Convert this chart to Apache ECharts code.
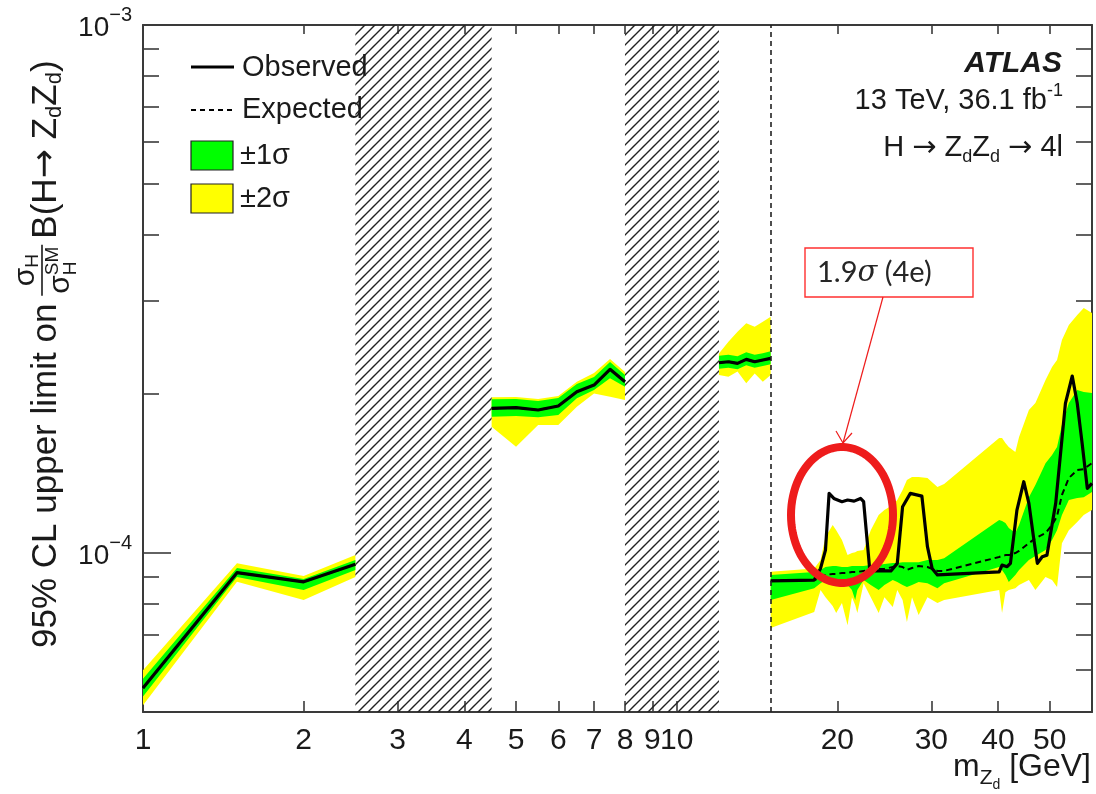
<!DOCTYPE html>
<html>
<head>
<meta charset="utf-8">
<script src="https://cdn.jsdelivr.net/npm/echarts@6/dist/echarts.min.js"></script>
<style>
  html, body { margin: 0; padding: 0; background: #fff; }
  #chart { width: 1096px; height: 794px; }
</style>
</head>
<body>
<div id="chart"></div>
<script>
// all limits are in units of 1e-4 (axis labels show 10^-4, 10^-3)

// excluded mass windows (hatched)
const hatchRanges = [[2.5, 4.5], [8, 12]];
const dashedLineX = 15;

// ticks / labels
const xTickVals = [2, 3, 4, 5, 6, 7, 8, 9, 10, 20, 30, 40, 50];
const xLabelVals = [1, 2, 3, 4, 5, 6, 7, 8, 9, 10, 20, 30, 40, 50];
const yMinorTicks = [0.6, 0.7, 0.8, 0.9, 2, 3, 4, 5, 6, 7, 8, 9];
const yLabelVals = [1, 10];
const yLabelExp = ['\u22124', '\u22123'];

// segment 1 : 1 - 2.5 GeV
const seg1X = [1, 1.5, 2, 2.5];
const seg1Obs = [0.555, 0.918, 0.882, 0.952];
const seg1Exp = [0.555, 0.918, 0.882, 0.952];
const seg1Hi2 = [0.600, 0.956, 0.905, 0.991];
const seg1Hi1 = [0.578, 0.937, 0.893, 0.970];
const seg1Lo1 = [0.535, 0.901, 0.851, 0.929];
const seg1Lo2 = [0.515, 0.882, 0.815, 0.901];

// segment 2 : 4.5 - 8 GeV
const seg2X = [4.5, 5, 5.5, 6, 6.5, 7, 7.5, 8];
const seg2Obs = [1.880, 1.885, 1.866, 1.899, 2.020, 2.080, 2.228, 2.111];
const seg2Exp = [1.880, 1.885, 1.866, 1.899, 2.020, 2.080, 2.228, 2.111];
const seg2Hi2 = [1.972, 1.975, 1.957, 1.983, 2.111, 2.193, 2.330, 2.203];
const seg2Hi1 = [1.955, 1.957, 1.940, 1.966, 2.089, 2.155, 2.300, 2.173];
const seg2Lo1 = [1.812, 1.817, 1.807, 1.825, 1.963, 2.035, 2.142, 2.065];
const seg2Lo2 = [1.734, 1.589, 1.747, 1.747, 1.892, 2.006, 1.977, 1.949];

// segment 3 : 12 - 15 GeV
const seg3X = [12, 12.5, 13, 13.5, 14, 14.5, 15];
const seg3Obs = [2.293, 2.303, 2.287, 2.327, 2.303, 2.320, 2.337];
const seg3Exp = [2.293, 2.303, 2.287, 2.327, 2.303, 2.320, 2.337];
const seg3Hi2 = [2.388, 2.512, 2.624, 2.723, 2.683, 2.742, 2.803];
const seg3Hi1 = [2.364, 2.375, 2.358, 2.399, 2.375, 2.390, 2.410];
const seg3Lo1 = [2.234, 2.244, 2.228, 2.268, 2.244, 2.260, 2.278];
const seg3Lo2 = [2.173, 2.158, 2.206, 2.096, 2.189, 2.111, 2.173];

// segment 4 : 15 - 60 GeV, observed
const obs4X = [15.0, 18.1, 18.6, 19.0, 19.3, 19.7, 20.4, 20.9, 21.5, 22.1, 22.4, 23.0, 23.6,
  25.2, 25.9, 26.5, 27.4, 28.8, 29.5, 30.1, 30.8, 40.2, 40.7, 41.6, 42.2, 43.4, 44.7, 45.7,
  46.7, 47.4, 48.4, 49.4, 51.3, 53.5, 55.1, 56.3, 57.5, 58.8, 60];
const obs4 = [0.886, 0.889, 0.935, 1.013, 1.297, 1.269, 1.251, 1.260, 1.254, 1.269, 1.251, 0.929, 0.925,
  0.925, 0.956, 1.224, 1.297, 1.282, 1.028, 0.935, 0.909, 0.921, 0.949, 0.942, 0.956, 1.206, 1.365, 1.242,
  1.058, 0.956, 0.984, 0.991, 1.242, 1.921, 2.164, 1.921, 1.613, 1.326, 1.355];

// segment 4 : expected and bands
const band4X = [15.0, 18.1, 18.6, 19.0, 19.6, 19.9, 20.4, 20.9, 21.3, 21.6, 21.8, 22.4, 23.1, 23.9,
  24.5, 25.4, 25.9, 26.5, 27.0, 27.6, 28.4, 29.5, 30.8, 31.7, 40.2, 40.7, 41.3, 41.9, 43.1, 43.8,
  45.7, 47.0, 49.1, 50.5, 51.6, 52.7, 54.3, 56.3, 57.9, 60];
const exp4 = [0.886, 0.889, 0.897, 0.909, 0.913, 0.913, 0.917, 0.917, 0.921, 0.921, 0.921, 0.925, 0.929, 0.933,
  0.933, 0.941, 0.945, 0.941, 0.929, 0.937, 0.945, 0.941, 0.925, 0.925, 0.983, 0.987, 0.991, 0.991, 1.000, 1.009,
  1.044, 1.067, 1.091, 1.130, 1.175, 1.288, 1.387, 1.436, 1.442, 1.480];
const hi2_4 = [0.922, 0.935, 0.970, 1.072, 1.130, 1.105, 1.058, 0.991, 1.000, 1.004, 1.009, 1.013, 1.105, 1.180,
  1.206, 1.233, 1.260, 1.316, 1.375, 1.393, 1.393, 1.387, 1.334, 1.351, 1.651, 1.651, 1.616, 1.588, 1.553, 1.658,
  1.866, 1.923, 2.127, 2.251, 2.320, 2.531, 2.703, 2.823, 2.911, 2.848];
const hi1_4 = [0.909, 0.921, 0.929, 0.941, 0.945, 0.945, 0.941, 0.941, 0.945, 0.945, 0.945, 0.945, 0.949, 0.949,
  0.953, 0.957, 0.957, 0.961, 0.961, 0.961, 0.961, 0.970, 0.970, 0.978, 1.155, 1.150, 1.140, 1.115, 1.091, 1.130,
  1.276, 1.345, 1.480, 1.533, 1.588, 1.748, 1.923, 2.036, 2.018, 2.009];
const lo1_4 = [0.815, 0.858, 0.877, 0.889, 0.893, 0.889, 0.877, 0.870, 0.851, 0.815, 0.851, 0.889, 0.870, 0.851,
  0.870, 0.889, 0.881, 0.870, 0.862, 0.870, 0.881, 0.877, 0.858, 0.877, 0.941, 0.929, 0.909, 0.881, 0.909, 0.929,
  0.970, 0.987, 1.013, 1.058, 1.105, 1.180, 1.260, 1.271, 1.276, 1.305];
const lo2_4 = [0.721, 0.773, 0.851, 0.825, 0.794, 0.770, 0.804, 0.730, 0.825, 0.797, 0.770, 0.877, 0.825, 0.770,
  0.825, 0.790, 0.851, 0.815, 0.740, 0.825, 0.763, 0.825, 0.804, 0.815, 0.851, 0.770, 0.843, 0.851, 0.858, 0.870,
  0.889, 0.851, 0.901, 0.889, 0.862, 1.044, 1.105, 1.145, 1.180, 1.206];

const segments = [
  { x: seg1X, obsX: seg1X, obs: seg1Obs, exp: seg1Exp, lo1: seg1Lo1, hi1: seg1Hi1, lo2: seg1Lo2, hi2: seg1Hi2 },
  { x: seg2X, obsX: seg2X, obs: seg2Obs, exp: seg2Exp, lo1: seg2Lo1, hi1: seg2Hi1, lo2: seg2Lo2, hi2: seg2Hi2 },
  { x: seg3X, obsX: seg3X, obs: seg3Obs, exp: seg3Exp, lo1: seg3Lo1, hi1: seg3Hi1, lo2: seg3Lo2, hi2: seg3Hi2 },
  { x: band4X, obsX: obs4X, obs: obs4, exp: exp4, lo1: lo1_4, hi1: hi1_4, lo2: lo2_4, hi2: hi2_4 }
];

const Y_MIN = 0.5, Y_MAX = 10, X_MIN = 1, X_MAX = 60;
const FONT = '"Liberation Sans", Arial, Helvetica, sans-serif';
const ARROW_FONT = '"DejaVu Sans", sans-serif';
const INK = '#1a1a1a';
const FRAME = '#3a3a3a';
const GREEN = '#00ff00', YELLOW = '#ffff00', RED = '#ee1c1c';

// ---- helpers ----
const zip = (xs, ys) => xs.map((x, i) => [x, ys[i]]);
const mctx = document.createElement('canvas').getContext('2d');
function measure(t, size, style, family) {
  mctx.font = (style || '') + ' ' + size + 'px ' + (family || FONT);
  return mctx.measureText(t).width;
}
function txt(t, x, y, size, opt) {
  opt = opt || {};
  const al = opt.align || 'left';
  return {
    type: 'text', x: x, y: y, silent: true, z: 100,
    style: {
      text: t, font: (opt.style || '') + ' ' + size + 'px ' + (opt.family || FONT),
      fill: opt.color || INK, align: al, verticalAlign: 'middle',
      textAlign: al, textVerticalAlign: 'middle'
    }
  };
}
// lays out pieces [text, size, dy, style, family] on one line
function run(pieces, x, y, align) {
  const w = pieces.map(p => measure(p[0], p[1], p[3], p[4]));
  let cx = align === 'right' ? x - w.reduce((a, b) => a + b, 0) : x;
  return pieces.map((p, i) => {
    const el = txt(p[0], cx, y + (p[2] || 0), p[1], { style: p[3], family: p[4] });
    cx += w[i];
    return el;
  });
}

function hatchPattern() {
  const s = 10, c = document.createElement('canvas');
  c.width = s; c.height = s;
  const g = c.getContext('2d');
  g.strokeStyle = '#222';
  g.lineWidth = 1.4;
  g.beginPath();
  g.moveTo(0, s); g.lineTo(s, 0);
  g.moveTo(-2, 2); g.lineTo(2, -2);
  g.moveTo(s - 2, s + 2); g.lineTo(s + 2, s - 2);
  g.stroke();
  return c;
}
const hatch = hatchPattern();

function bandSeries(lo, hi, color, z) {
  return {
    type: 'custom', z: z, silent: true,
    data: segments.map((s, i) => [s.x[0], s.exp[0], i]),
    encode: { x: 0, y: 1 },
    renderItem: function (params, api) {
      const s = segments[api.value(2)];
      const pts = [];
      s.x.forEach((x, i) => pts.push(api.coord([x, s[hi][i]])));
      for (let i = s.x.length - 1; i >= 0; i--) pts.push(api.coord([s.x[i], s[lo][i]]));
      return { type: 'polygon', shape: { points: pts }, style: { fill: color } };
    }
  };
}

// ---- series ----
const series = [
  bandSeries('lo2', 'hi2', YELLOW, 1),
  bandSeries('lo1', 'hi1', GREEN, 2)
];
segments.forEach((s) => {
  series.push({
    type: 'line', z: 3, silent: true, symbol: 'none',
    data: zip(s.x, s.exp),
    lineStyle: { color: '#000', width: 2, type: [6, 4] }
  });
});
segments.forEach((s, i) => {
  const ser = {
    type: 'line', z: 4, silent: true, symbol: 'none',
    data: zip(s.obsX, s.obs),
    lineStyle: { color: '#000', width: 3.2, join: 'round' }
  };
  if (i === 3) {
    ser.markLine = {
      silent: true, symbol: ['none', 'none'], label: { show: false },
      lineStyle: { color: '#222', width: 1.6, type: [5, 4] },
      data: [{ xAxis: dashedLineX }]
    };
  }
  series.push(ser);
});
series.push({
  type: 'custom', z: 5, silent: true,
  data: hatchRanges,
  encode: { x: [0, 1] },
  renderItem: function (params, api) {
    const p0 = api.coord([api.value(0), Y_MAX]);
    const p1 = api.coord([api.value(1), Y_MIN]);
    return {
      type: 'rect',
      shape: { x: p0[0], y: p0[1], width: p1[0] - p0[0], height: p1[1] - p0[1] },
      style: { fill: { image: hatch, repeat: 'repeat' } }
    };
  }
});

// ---- axes ----
const axisLine = { show: true, lineStyle: { color: FRAME, width: 2 } };
function xAxis(pos, showLabel) {
  return {
    type: 'log', logBase: 10, min: X_MIN, max: X_MAX, position: pos,
    axisLine: axisLine,
    axisTick: { show: true, inside: true, length: pos === 'top' ? 9 : 11, customValues: xTickVals,
      lineStyle: { color: FRAME, width: 1.6 } },
    minorTick: { show: false }, splitLine: { show: false },
    axisLabel: showLabel ? {
      customValues: xLabelVals, margin: 14, fontSize: 30, fontFamily: FONT, color: INK,
      formatter: v => String(Math.round(v))
    } : { show: false }
  };
}
function yAxis(pos, ticks, len, lineShow, labels) {
  return {
    type: 'log', logBase: 10, min: Y_MIN, max: Y_MAX, position: pos,
    axisLine: lineShow ? axisLine : { show: false },
    axisTick: { show: true, inside: true, length: len, customValues: ticks,
      lineStyle: { color: FRAME, width: 1.6 } },
    minorTick: { show: false }, splitLine: { show: false },
    axisLabel: labels ? {
      customValues: yLabelVals, margin: 11,
      formatter: v => '{b|10}{s|' + yLabelExp[yLabelVals.indexOf(Math.round(v))] + '}',
      rich: {
        b: { fontSize: 28, fontFamily: FONT, color: INK, lineHeight: 40, padding: [6, 0, 0, 0] },
        s: { fontSize: 20, fontFamily: FONT, color: INK, lineHeight: 20, verticalAlign: 'top' }
      }
    } : { show: false }
  };
}

// ---- y title (rotated) ----
function yTitle() {
  const S = 35, sF = 30, sS = 19, sSub = 22;
  const kids = [];
  let lx = 0;
  kids.push(txt('95% CL upper limit on', lx, 0, S));
  lx += measure('95% CL upper limit on', S) + 8;
  const wSig = measure('\u03c3', sF);
  const wNum = wSig + measure('H', sS);
  const wDen = wSig + measure('SM', sS);
  const wf = Math.max(wNum, wDen) + 4;
  kids.push({ type: 'line', silent: true, z: 100,
    shape: { x1: lx, y1: -4, x2: lx + wf, y2: -4 }, style: { stroke: INK, lineWidth: 1.6 } });
  const nx = lx + (wf - wNum) / 2;
  kids.push(txt('\u03c3', nx, -20, sF));
  kids.push(txt('H', nx + wSig, -13, sS));
  const dx = lx + (wf - wDen) / 2;
  kids.push(txt('\u03c3', dx, 15, sF));
  kids.push(txt('SM', dx + wSig, 7, sS));
  kids.push(txt('H', dx + wSig, 25, sS));
  lx += wf + 6;
  const rest = [['B(H', S, 0], ['\u2192', S, 0, ARROW_FONT], [' Z', S, 0], ['d', sSub, 9], ['Z', S, 0], ['d', sSub, 9], [')', S, 0]];
  rest.forEach(p => {
    kids.push(txt(p[0], lx, p[2], p[1], { family: p[3] }));
    lx += measure(p[0], p[1], '', p[3]);
  });
  return { type: 'group', x: 46, y: 648, rotation: Math.PI / 2, children: kids };
}

// ---- ellipse around the 20 GeV excess ----
function ellipse(cx, cy, rx, ry) {
  const pts = [];
  for (let k = 0; k < 90; k++) {
    const a = k / 90 * Math.PI * 2;
    pts.push([cx + rx * Math.cos(a), cy + ry * Math.sin(a)]);
  }
  return { type: 'polygon', silent: true, z: 120, shape: { points: pts },
    style: { fill: 'none', stroke: RED, lineWidth: 8 } };
}

const graphic = [].concat(
  // legend
  [
    { type: 'line', z: 100, shape: { x1: 191, y1: 67, x2: 234, y2: 67 }, style: { stroke: '#000', lineWidth: 3 } },
    txt('Observed', 242, 68, 29),
    { type: 'line', z: 100, shape: { x1: 191, y1: 110, x2: 234, y2: 110 },
      style: { stroke: '#000', lineWidth: 2, lineDash: [5, 4] } },
    txt('Expected', 242, 110, 29),
    { type: 'rect', z: 100, shape: { x: 191, y: 141, width: 42, height: 29 },
      style: { fill: GREEN, stroke: '#222', lineWidth: 1.2 } },
    txt('\u00b11\u03c3', 240, 156, 29),
    { type: 'rect', z: 100, shape: { x: 191, y: 184, width: 42, height: 29 },
      style: { fill: YELLOW, stroke: '#222', lineWidth: 1.2 } },
    txt('\u00b12\u03c3', 240, 199, 29)
  ],
  // experiment labels
  [txt('ATLAS', 1062, 64, 30, { align: 'right', style: 'italic bold' })],
  run([['13 TeV, 36.1 fb', 29, 0], ['-1', 18, -10]], 1063, 101, 'right'),
  run([['H ', 29, 0], ['\u2192', 29, 0, '', ARROW_FONT], [' Z', 29, 0], ['d', 18, 9], ['Z', 29, 0], ['d', 18, 9],
       [' ', 29, 0], ['\u2192', 29, 0, '', ARROW_FONT], [' 4l', 29, 0]], 1063, 148, 'right'),
  // x title
  run([['m', 32, 0], ['Z', 21, 11], ['d', 14, 18], [' [GeV]', 32, 0]], 1091, 767, 'right'),
  [yTitle()],
  // annotation
  [
    { type: 'rect', z: 110, shape: { x: 805, y: 248, width: 168, height: 49 },
      style: { fill: '#fff', stroke: '#ff3030', lineWidth: 1.4 } },
    { type: 'text', z: 111, x: 817, y: 273,
      style: { text: '{a|1.9}{i|\u03c3}{a| (4e)}', align: 'left', verticalAlign: 'middle',
        textAlign: 'left', textVerticalAlign: 'middle',
        rich: { a: { fontSize: 29, fontFamily: 'Lato, "Open Sans", sans-serif', fill: '#262626' },
                i: { fontSize: 29, fontFamily: '"DejaVu Serif", serif', fontStyle: 'italic', fill: '#262626' } } } },
    { type: 'line', z: 110, shape: { x1: 883, y1: 297, x2: 843, y2: 443 }, style: { stroke: RED, lineWidth: 1.2 } },
    { type: 'polyline', z: 110, shape: { points: [[836, 431], [843, 443], [852, 433]] },
      style: { stroke: RED, lineWidth: 1.2, fill: 'none' } },
    ellipse(842, 515, 51, 68)
  ]
);

const chart = echarts.init(document.getElementById('chart'), null, { renderer: 'canvas' });
chart.setOption({
  animation: false,
  backgroundColor: '#fff',
  grid: { left: 143, right: 4, top: 25, bottom: 82, containLabel: false, outerBoundsMode: 'none' },
  xAxis: [xAxis('bottom', true), xAxis('top', false)],
  yAxis: [
    yAxis('left', yMinorTicks, 16, true, true),
    yAxis('left', [1], 28, false, false),
    yAxis('right', yMinorTicks, 16, true, false),
    yAxis('right', [1], 28, false, false)
  ],
  series: series,
  graphic: graphic
});
</script>
</body>
</html>
